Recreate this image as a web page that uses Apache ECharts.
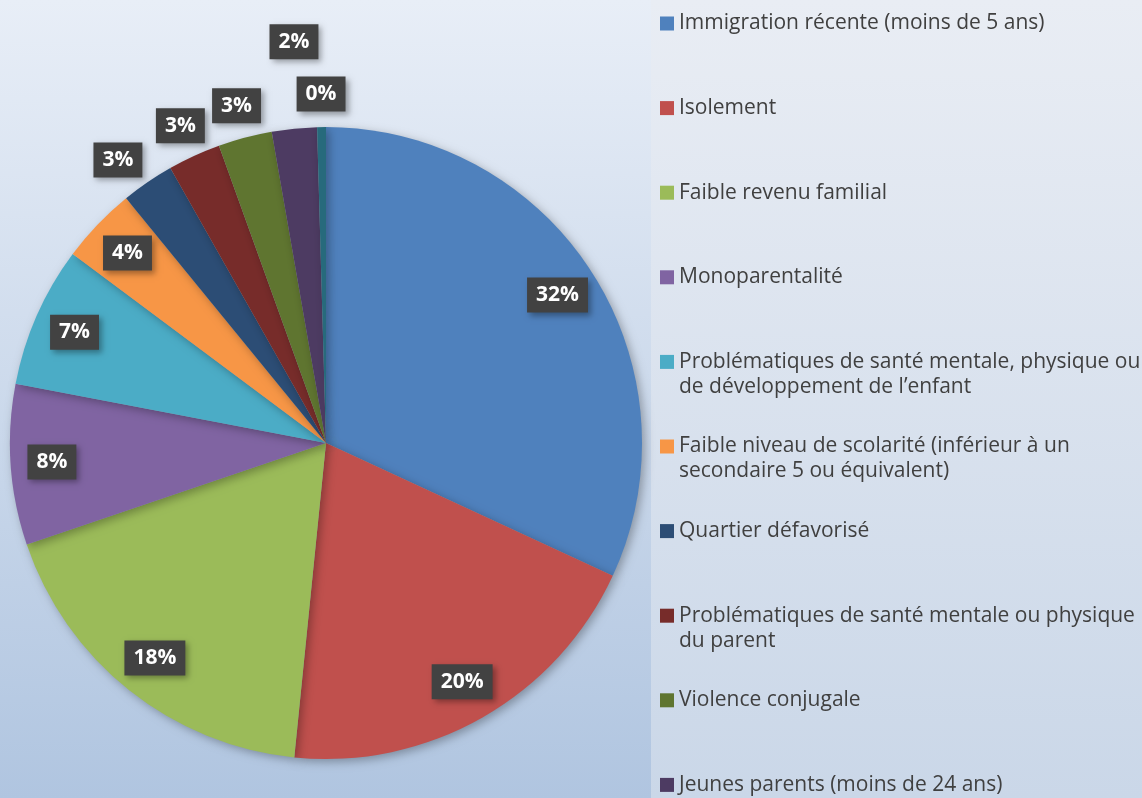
<!DOCTYPE html>
<html>
<head>
<meta charset="utf-8">
<script src="https://cdn.jsdelivr.net/npm/echarts@6/dist/echarts.min.js"></script>
<style>
    html, body { margin: 0; padding: 0; }
    #chart { width: 1142px; height: 798px; }
</style>
</head>
<body>
<div id="chart"></div>
<script>
(function (window, document) {
    'use strict';

    var categories = [
        'Immigration récente (moins de 5 ans)',
        'Isolement',
        'Faible revenu familial',
        'Monoparentalité',
        'Problématiques de santé mentale, physique ou\nde développement de l’enfant',
        'Faible niveau de scolarité (inférieur à un\nsecondaire 5 ou équivalent)',
        'Quartier défavorisé',
        'Problématiques de santé mentale ou physique\ndu parent',
        'Violence conjugale',
        'Jeunes parents (moins de 24 ans)',
        'Autre'
    ];
    // part de chaque facteur (%)
    var shares = [31.9, 19.7, 18.2, 8.2, 7.2, 3.9, 2.7, 2.7, 2.75, 2.3, 0.45];
    var colors = ['#4f81bd', '#c0504d', '#9bbb59', '#8064a2', '#4bacc6', '#f79646',
        '#2c4d75', '#772c2a', '#5f7530', '#4d3b62', '#276a7c'];
    // les petites parts ont leur étiquette à l'extérieur
    var outsideIdx = [6, 7, 8, 9, 10];
    var legendNames = categories.slice(0, 10);

    var chartDom = document.getElementById('chart');
    var myChart = echarts.init(chartDom);

    var R = 316;
    var center = [326, 443];

    var labelStyle = {
        color: '#ffffff',
        fontFamily: 'Open Sans',
        fontWeight: 'bold',
        fontSize: 21,
        lineHeight: 23,
        backgroundColor: '#424242',
        padding: [6, 9],
        shadowBlur: 6,
        shadowColor: 'rgba(0,0,0,0.35)',
        shadowOffsetX: 3,
        shadowOffsetY: 3,
        formatter: function (p) {
            return Math.round(p.percent) + '%';
        }
    };

    function labelData(inside) {
        return shares.map(function (v, i) {
            var isOut = outsideIdx.indexOf(i) >= 0;
            return {
                value: v,
                label: { show: inside ? !isOut : isOut }
            };
        });
    }

    function labelSeries(radius, inside) {
        return {
            type: 'pie',
            radius: radius,
            center: center,
            startAngle: 90,
            silent: true,
            z: 5,
            itemStyle: { color: 'rgba(0,0,0,0)' },
            emphasis: { disabled: true },
            tooltip: { show: false },
            label: Object.assign({ position: 'inside' }, labelStyle),
            labelLine: { show: false },
            labelLayout: function (params) {
                if (inside) {
                    return;
                }
                // petits décalages comme dans Excel
                if (params.dataIndex === 6) {
                    return { dx: -11, dy: 5 };
                }
                if (params.dataIndex === 9) {
                    return { dx: 3, dy: -54 };
                }
            },
            data: labelData(inside)
        };
    }

    var option = {
        animation: false,
        color: colors,
        graphic: [{
            type: 'rect',
            z: -10,
            shape: { x: 0, y: 0, width: 651, height: 798 },
            style: {
                fill: new echarts.graphic.LinearGradient(0, 0, 0, 1, [
                    { offset: 0, color: '#e8eef7' },
                    { offset: 1, color: '#b0c5e0' }
                ])
            }
        }, {
            type: 'rect',
            z: -10,
            shape: { x: 651, y: 0, width: 491, height: 798 },
            style: {
                fill: new echarts.graphic.LinearGradient(0, 0, 0, 1, [
                    { offset: 0, color: '#e9edf4' },
                    { offset: 1, color: '#cad7e8' }
                ])
            }
        }],
        legend: {
            orient: 'vertical',
            left: 660,
            top: -14,
            height: 860,
            padding: 0,
            itemWidth: 14,
            itemHeight: 14,
            itemGap: 9.6,
            icon: 'rect',
            data: legendNames,
            selectedMode: false,
            textStyle: {
                color: '#404040',
                fontFamily: 'Open Sans',
                fontSize: 21,
                lineHeight: 25
            },
            formatter: function (name) {
                return '\n' + name + (name.indexOf('\n') < 0 ? '\n' : '');
            }
        },
        series: [{
            type: 'pie',
            radius: R,
            center: center,
            startAngle: 90,
            itemStyle: {
                shadowBlur: 10,
                shadowColor: 'rgba(0,0,0,0.3)',
                shadowOffsetX: 3,
                shadowOffsetY: 3
            },
            label: { show: false },
            labelLine: { show: false },
            emphasis: { disabled: true },
            data: categories.map(function (name, i) {
                return { name: name, value: shares[i] };
            })
        },
            labelSeries([R * 0.72, R], true),
            labelSeries([R, R * 1.19], false)
        ]
    };

    myChart.setOption(option);
})(window, document);
</script>
</body>
</html>
